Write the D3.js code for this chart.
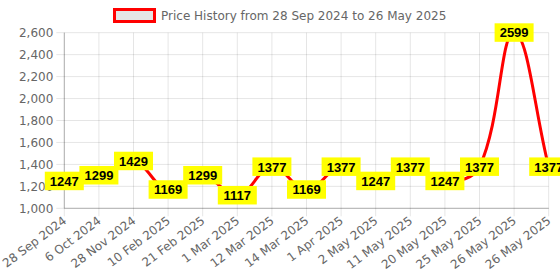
<!DOCTYPE html>
<html>
<head>
<meta charset="utf-8">
<script src="https://cdn.jsdelivr.net/npm/d3@7"></script>
<style>
  body { margin: 0; background: #fff; }
  svg { display: block; }
</style>
</head>
<body>
<div id="chart"></div>
<script>
// price history data
var dates = ["28 Sep 2024", "6 Oct 2024", "28 Nov 2024", "10 Feb 2025", "21 Feb 2025",
  "1 Mar 2025", "12 Mar 2025", "14 Mar 2025", "1 Apr 2025", "2 May 2025",
  "11 May 2025", "20 May 2025", "25 May 2025", "26 May 2025", "26 May 2025"];
var prices = [1247, 1299, 1429, 1169, 1299, 1117, 1377, 1169, 1377, 1247, 1377, 1247, 1377, 2599, 1377];
var yTicks = [1000, 1200, 1400, 1600, 1800, 2000, 2200, 2400, 2600];
var legendText = "Price History from 28 Sep 2024 to 26 May 2025";

var svgWidth = 560, svgHeight = 280;
var area = { left: 64.3, right: 548.7, top: 32.7, bottom: 208.3 };

var svg = d3.select("#chart").append("svg")
  .attr("width", svgWidth)
  .attr("height", svgHeight);

var xScale = d3.scalePoint()
  .domain(d3.range(dates.length))
  .range([area.left, area.right]);

var yScale = d3.scaleLinear()
  .domain([1000, 2600])
  .range([area.bottom, area.top]);

var grid = "rgba(0,0,0,0.1)";

// horizontal grid + ticks
svg.append("g").selectAll("line")
  .data(yTicks)
  .enter().append("line")
  .attr("x1", area.left - 8).attr("x2", area.right)
  .attr("y1", d => yScale(d)).attr("y2", d => yScale(d))
  .attr("stroke", grid).attr("stroke-width", 1);

// vertical grid + ticks
svg.append("g").selectAll("line")
  .data(d3.range(dates.length))
  .enter().append("line")
  .attr("x1", d => xScale(d)).attr("x2", d => xScale(d))
  .attr("y1", area.top).attr("y2", area.bottom + 8)
  .attr("stroke", grid).attr("stroke-width", 1);

// axis borders
svg.append("line")
  .attr("x1", area.left).attr("x2", area.left)
  .attr("y1", area.top).attr("y2", area.bottom)
  .attr("stroke", "rgba(0,0,0,0.25)");
svg.append("line")
  .attr("x1", area.left).attr("x2", area.right)
  .attr("y1", area.bottom).attr("y2", area.bottom)
  .attr("stroke", "rgba(0,0,0,0.25)");

// y labels
svg.append("g").selectAll("text")
  .data(yTicks)
  .enter().append("text")
  .attr("x", area.left - 11)
  .attr("y", d => yScale(d))
  .attr("dy", "0.36em")
  .attr("text-anchor", "end")
  .attr("font-family", "DejaVu Sans")
  .attr("font-size", 12)
  .attr("fill", "#666")
  .text(d => d3.format(",")(d));

// x labels
svg.append("g").selectAll("text")
  .data(dates)
  .enter().append("text")
  .attr("transform", (d, i) => `translate(${xScale(i) + 3}, ${area.bottom + 14}) rotate(-37)`)
  .attr("text-anchor", "end")
  .attr("font-family", "DejaVu Sans")
  .attr("font-size", 12)
  .attr("fill", "#666")
  .text(d => d);

// legend
svg.append("rect")
  .attr("x", 114.5).attr("y", 9.5)
  .attr("width", 40).attr("height", 12)
  .attr("fill", "rgba(0,0,0,0.1)")
  .attr("stroke", "red").attr("stroke-width", 3);
svg.append("text")
  .attr("x", 161).attr("y", 16)
  .attr("dy", "0.36em")
  .attr("font-family", "DejaVu Sans")
  .attr("font-size", 12)
  .attr("fill", "#666")
  .text(legendText);

// line, chart.js style spline (tension 0.4)
var pts = prices.map((p, i) => ({ x: xScale(i), y: yScale(p) }));
var tension = 0.4;
var clampX = v => Math.max(area.left, Math.min(area.right, v));
var clampY = v => Math.max(area.top, Math.min(area.bottom, v));
pts.forEach(function(cur, i) {
  var prev = pts[i - 1] || cur;
  var next = pts[i + 1] || cur;
  var d01 = Math.hypot(cur.x - prev.x, cur.y - prev.y);
  var d12 = Math.hypot(next.x - cur.x, next.y - cur.y);
  var s01 = d01 / (d01 + d12) || 0;
  var s12 = d12 / (d01 + d12) || 0;
  var fa = tension * s01, fb = tension * s12;
  cur.cpPrev = { x: clampX(cur.x - fa * (next.x - prev.x)), y: clampY(cur.y - fa * (next.y - prev.y)) };
  cur.cpNext = { x: clampX(cur.x + fb * (next.x - prev.x)), y: clampY(cur.y + fb * (next.y - prev.y)) };
});
var path = d3.path();
path.moveTo(pts[0].x, pts[0].y);
for (var i = 1; i < pts.length; i++) {
  var a = pts[i - 1], b = pts[i];
  path.bezierCurveTo(a.cpNext.x, a.cpNext.y, b.cpPrev.x, b.cpPrev.y, b.x, b.y);
}
svg.append("path")
  .attr("d", path.toString())
  .attr("fill", "none")
  .attr("stroke", "red")
  .attr("stroke-width", 3);

// data labels
var labels = svg.append("g").selectAll("g")
  .data(prices)
  .enter().append("g")
  .attr("transform", (d, i) => `translate(${xScale(i)}, ${yScale(d)})`);
labels.append("rect")
  .attr("x", -19.5).attr("y", -9.5)
  .attr("width", 39).attr("height", 18.5)
  .attr("fill", "yellow");
labels.append("text")
  .attr("text-anchor", "middle")
  .attr("dy", "0.36em")
  .attr("font-family", "Liberation Sans")
  .attr("font-weight", "bold")
  .attr("font-size", 13)
  .attr("fill", "#000")
  .text(d => d);
</script>
</body>
</html>
